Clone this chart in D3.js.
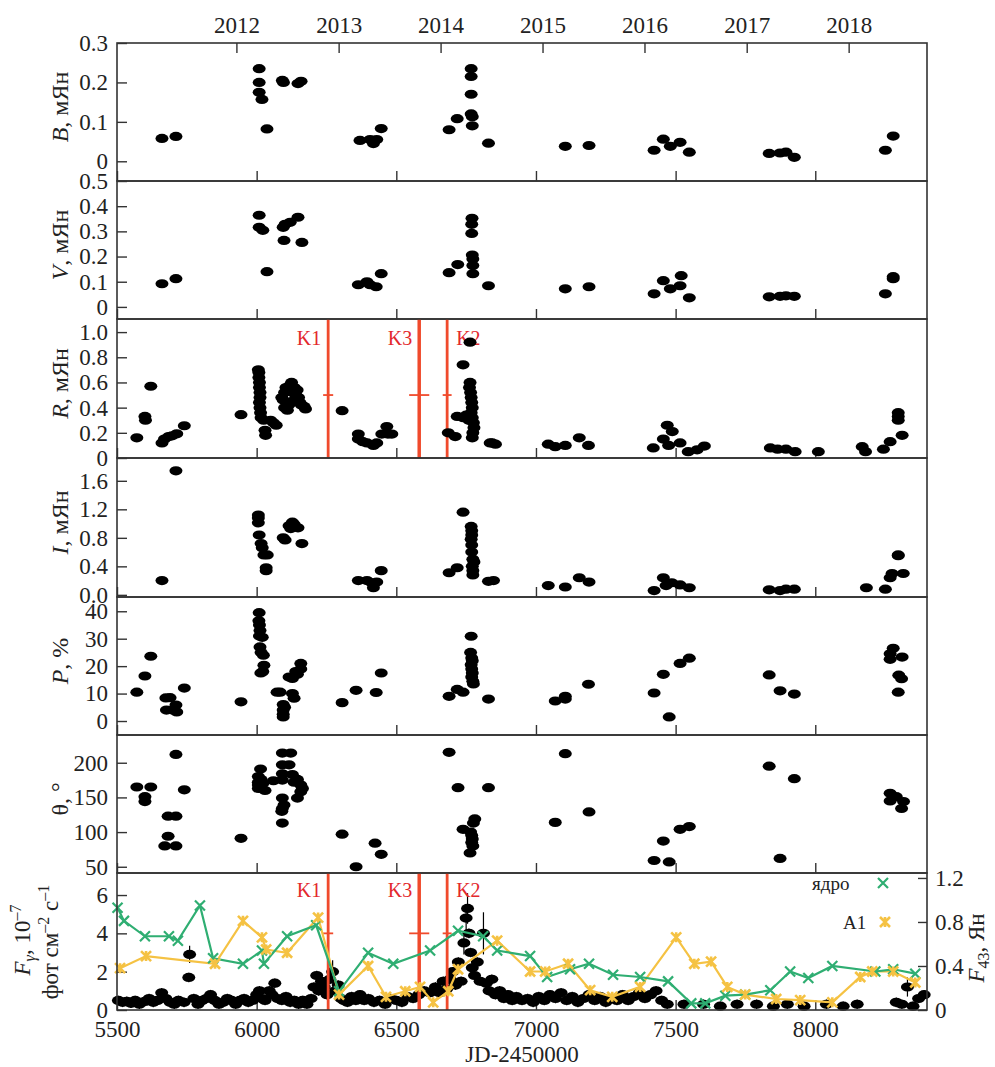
<!DOCTYPE html>
<html>
<head>
<meta charset="utf-8">
<script src="https://cdn.jsdelivr.net/npm/d3@7"></script>
<style>
  body { margin: 0; background: #fff; }
  text { font-family: "Liberation Serif", "DejaVu Serif", serif; fill: #222; }
</style>
</head>
<body>
<div id="chart"></div>
<script>
var width = 995;
var height = 1067;
var left = 117, right = 927;

// year ticks on top (JD-2450000 of 1 January)
var yearJD = [5927.5, 6293.5, 6658.5, 7023.5, 7388.5, 7754.5, 8119.5];
var yearLabels = ["2012", "2013", "2014", "2015", "2016", "2017", "2018"];
var jdTicks = [5500, 6000, 6500, 7000, 7500, 8000];

// flux B, mJy
var bJD = [5661,5711,6009,6009,6009,6019,6037,6092,6096,6148,6159,6370,6406,6418,6430,6446,6689,6718,6768,6768,6768,6768,6772,6772,6830,7105,7190,7423,7456,7481,7516,7549,7835,7874,7895,7925,8251,8279];
var bVal = [0.058,0.063,0.235,0.20,0.175,0.157,0.082,0.205,0.200,0.197,0.203,0.053,0.055,0.045,0.055,0.083,0.080,0.108,0.235,0.215,0.170,0.120,0.113,0.090,0.046,0.038,0.040,0.028,0.056,0.038,0.048,0.023,0.020,0.021,0.023,0.010,0.028,0.064];

// flux V, mJy
var vJD = [5661,5711,6009,6009,6022,6037,6095,6098,6102,6120,6148,6162,6364,6395,6406,6428,6446,6689,6720,6771,6770,6770,6772,6774,6774,6774,6830,7105,7190,7423,7456,7481,7516,7520,7549,7835,7874,7895,7925,8251,8279,8279];
var vVal = [0.092,0.112,0.364,0.316,0.304,0.14,0.316,0.264,0.328,0.336,0.356,0.256,0.088,0.1,0.088,0.08,0.132,0.136,0.168,0.352,0.328,0.292,0.206,0.19,0.164,0.132,0.084,0.072,0.08,0.052,0.104,0.072,0.084,0.124,0.036,0.04,0.042,0.044,0.042,0.052,0.12,0.112];

// flux R, mJy
var rJD = [5571,5600,5602,5621,5661,5670,5685,5697,5714,5741,5944,
  6006,6008,6008,6010,6010,6012,6012,6010,6012,6014,6016,6025,6030,6032,6050,6070,6060,
  6090,6095,6100,6105,6110,6115,6120,6125,6130,6135,6140,6145,6150,6155,6160,6135,6100,6110,6170,6175,
  6306,6364,6364,6380,6395,6418,6430,6448,6466,6470,6484,
  6686,6711,6718,6739,6764,6764,6762,6766,6768,6770,6772,6768,6772,6776,6778,6774,6772,6750,6740,6760,
  6836,6843,6855,7044,7069,7105,7155,7188,7420,7456,7470,7488,7475,7516,7545,7577,7603,
  7839,7865,7895,7928,8011,8168,8180,8244,8268,8311,8297,8297,8297];
var rVal = [0.16,0.33,0.30,0.57,0.12,0.15,0.17,0.176,0.192,0.256,0.344,
  0.70,0.68,0.64,0.60,0.56,0.52,0.48,0.44,0.40,0.36,0.32,0.30,0.22,0.18,0.30,0.26,0.28,
  0.48,0.46,0.52,0.56,0.44,0.42,0.58,0.60,0.52,0.56,0.50,0.54,0.48,0.44,0.42,0.46,0.40,0.38,0.41,0.39,
  0.376,0.19,0.15,0.13,0.12,0.10,0.12,0.19,0.25,0.19,0.19,
  0.20,0.17,0.33,0.74,0.92,0.60,0.56,0.52,0.48,0.44,0.40,0.36,0.32,0.28,0.24,0.20,0.16,0.34,0.32,0.30,
  0.12,0.12,0.11,0.11,0.09,0.10,0.16,0.10,0.08,0.15,0.26,0.21,0.10,0.12,0.05,0.065,0.095,
  0.08,0.07,0.07,0.05,0.05,0.09,0.05,0.07,0.13,0.18,0.36,0.33,0.30];

// flux I, mJy
var iJD = [5661,5711,6006,6006,6006,6009,6016,6020,6026,6038,6034,6034,6095,6102,6128,6116,6134,6148,6122,6162,
  6364,6395,6412,6418,6430,6446,6689,6718,6739,6768,6770,6770,6768,6770,6770,6774,6778,6772,6774,6774,6830,6848,
  7044,7105,7155,7190,7423,7456,7466,7486,7516,7549,7835,7874,7895,7925,8183,8251,8268,8275,8315,8297,8297];
var iVal = [0.2,1.74,1.12,1.08,1.01,0.84,0.72,0.66,0.56,0.56,0.38,0.34,0.80,0.77,1.02,0.97,0.99,0.94,0.93,0.72,
  0.2,0.2,0.17,0.1,0.18,0.34,0.31,0.38,1.16,0.96,0.90,0.84,0.78,0.70,0.60,0.50,0.46,0.40,0.34,0.28,0.19,0.20,
  0.13,0.11,0.24,0.18,0.06,0.24,0.13,0.17,0.14,0.10,0.07,0.06,0.08,0.08,0.10,0.08,0.24,0.30,0.30,0.56,0.55];

// polarization degree P, %
var pJD = [5571,5600,5621,5675,5690,5677,5711,5714,5700,5741,5944,
  6009,6008,6010,6012,6010,6020,6012,6016,6024,6026,6022,6015,
  6073,6084,6095,6095,6095,6095,6100,6128,6134,6116,6128,6140,6158,6158,6146,
  6306,6356,6428,6446,
  6689,6718,6739,6768,6766,6770,6772,6768,6770,6772,6770,6774,6776,6830,
  7069,7105,7105,7188,7423,7456,7477,7516,7549,7835,7874,7925,8279,8268,8268,8311,8299,8309,8297];
var pVal = [10.5,16.4,23.6,8.4,8.5,4,5.8,3.3,4,12,7,
  39.5,36.5,35,33,31,30.5,27,25,24,20.3,18,17.5,
  10.5,10.5,6,4,2.5,1.5,5,10,8.3,16,15.5,18,21,19,17,
  6.7,11.2,10.4,17.5,
  9,11.5,10.5,30.9,25,23,22,20.5,19,17.5,16,14.5,13.5,8,
  7.3,9,8,13.4,10.2,17,1.5,21,22.9,16.8,11,9.8,26.5,24.5,22.5,23.3,16.7,15.4,10.5];

// polarization angle, deg
var thJD = [5571,5621,5600,5600,5711,5683,5711,5683,5671,5711,5741,5944,
  6014,6006,6006,6006,6006,6022,6030,6016,
  6092,6122,6092,6116,6060,6092,6092,6128,6146,6158,6164,6146,6092,6098,6092,6090,6092,6158,6134,
  6306,6356,6424,6446,
  6689,6721,6830,6739,6781,6776,6766,6770,6772,6770,6774,6764,
  7069,7105,7190,7423,7456,7477,7516,7549,7835,7874,7925,8268,8268,8290,8316,8309];
var thVal = [165,165,151,144,212,123,123,94,80,80,161,91,
  191,180,172,168,163,170,160,176,
  214,214,197,197,174,184,175,183,176,168,163,149,149,139,134,130,113,158,172,
  97,50,84,68,
  215,164,164,104,119,113,100,95,90,85,80,70,
  114,213,129,59,87,57,104,108,195,62,177,156,145,151,144,134];

// gamma-ray flux, 10^-7 ph cm^-2 s^-1
var fgJD = [5505,5520,5535,5550,5565,5580,5600,5615,5630,5645,5660,5675,5690,5705,5720,5740,5757,5760,5775,5790,
  5805,5820,5835,5850,5865,5880,5895,5910,5925,5940,5955,5970,5985,6000,6010,6020,6030,6045,6055,6065,
  6075,6090,6105,6120,6135,6150,6165,6180,6195,6205,6215,6222,6232,6242,6252,6262,6272,6282,6292,6302,
  6312,6325,6340,6355,6370,6385,6400,6420,6440,6460,6480,6500,6520,6540,6560,6580,6600,6620,6640,6655,
  6668,6680,6692,6702,6712,6722,6732,6742,6750,6755,6760,6766,6772,6780,6790,6800,6812,6822,6832,6842,
  6855,6870,6885,6900,6915,6930,6950,6970,6990,7010,7030,7050,7070,7090,7110,7130,7150,7170,7190,7210,
  7230,7250,7270,7290,7310,7330,7350,7370,7390,7410,7430,7450,7470,7530,7600,7660,7720,7790,7850,7900,
  7960,8040,8100,8150,8290,8310,8330,8350,8370,8390];
var fgVal = [0.5,0.4,0.45,0.35,0.5,0.3,0.45,0.6,0.4,0.5,0.9,0.6,0.4,0.3,0.5,0.4,1.7,2.9,0.6,0.3,
  0.5,0.6,0.8,0.5,0.3,0.4,0.6,0.5,0.3,0.5,0.6,0.4,0.5,0.8,1.0,0.6,0.5,1.0,0.8,1.4,
  0.6,0.5,0.7,0.4,0.5,0.3,0.5,0.3,0.6,1.2,1.8,1.0,1.5,1.2,0.8,1.6,2.0,1.0,1.3,0.6,
  0.5,0.4,0.7,0.5,0.8,0.5,0.6,0.4,0.5,0.3,0.6,0.5,0.4,0.7,0.6,0.8,1.0,0.9,1.2,0.9,
  1.5,1.1,1.6,2.0,1.3,2.5,1.5,3.5,4.8,5.3,4.0,3.0,2.2,1.8,2.5,1.5,4.0,1.4,1.0,1.6,
  0.8,1.0,0.6,0.8,0.5,0.7,0.5,0.6,0.4,0.7,0.5,0.8,0.6,0.9,0.5,0.7,0.4,0.6,0.8,0.5,
  0.7,0.4,0.6,0.5,0.8,0.5,0.7,0.9,0.6,0.8,1.0,0.5,0.3,0.3,0.3,0.2,0.3,0.3,0.2,0.3,
  0.2,0.3,0.2,0.3,0.4,0.3,1.2,0.2,0.6,0.8];
var fgErrDefault = 0.25;
var fgBigErrJD = [5760, 6272, 6742, 6750, 6755, 6812, 8330];
var fgBigErr = [0.45, 0.6, 0.6, 0.7, 0.8, 1.1, 0.5];

// radio flux density at 43 GHz, Jy
var coreJD = [5502,5525,5600,5686,5718,5797,5844,5951,6019,6026,6109,6213,6295,6399,6489,6621,6721,6811,6861,6979,
  7040,7122,7190,7276,7373,7473,7556,7606,7678,7749,7839,7910,7975,8061,8215,8279,8358];
var coreVal = [0.93,0.81,0.67,0.67,0.63,0.95,0.47,0.42,0.54,0.42,0.67,0.77,0.17,0.52,0.42,0.54,0.72,0.67,0.54,0.49,
  0.30,0.37,0.42,0.32,0.30,0.26,0.06,0.06,0.13,0.14,0.18,0.35,0.29,0.40,0.35,0.37,0.33];
var a1JD = [5511,5604,5851,5951,6019,6034,6109,6220,6295,6399,6463,6532,6585,6632,6686,6721,6861,6979,7033,7115,
  7194,7273,7373,7502,7567,7627,7685,7749,7860,7946,8061,8161,8204,8279,8358];
var a1Val = [0.38,0.49,0.42,0.81,0.66,0.55,0.52,0.84,0.14,0.40,0.12,0.17,0.21,0.07,0.17,0.37,0.63,0.35,0.35,0.42,
  0.18,0.12,0.21,0.66,0.42,0.44,0.21,0.14,0.10,0.09,0.07,0.30,0.35,0.35,0.25];

// component ejection epochs
var kNames = ["K1", "K3", "K2"];
var kJD = [6256, 6582, 6682];
var kErr = [18, 36, 16];

var greenColor = "#2fae72";
var yellowColor = "#f5c243";
var redLine = "#f04a2c";
var redText = "#e3282c";

var x = d3.scaleLinear().domain([5500, 8400]).range([left, right]);

var svg = d3.select("#chart").append("svg")
    .attr("width", width)
    .attr("height", height);

var panels = [
  { top: 43, bot: 181, dom: [-0.05, 0.3], ticks: [0, 0.1, 0.2, 0.3], fmt: ["0", "0.1", "0.2", "0.3"], xs: bJD, ys: bVal, letter: "B", unit: ", мЯн" },
  { top: 181, bot: 319, dom: [-0.048, 0.5], ticks: [0, 0.1, 0.2, 0.3, 0.4, 0.5], fmt: ["0", "0.1", "0.2", "0.3", "0.4", "0.5"], xs: vJD, ys: vVal, letter: "V", unit: ", мЯн" },
  { top: 319, bot: 458, dom: [0, 1.104], ticks: [0, 0.2, 0.4, 0.6, 0.8, 1.0], fmt: ["0", "0.2", "0.4", "0.6", "0.8", "1.0"], xs: rJD, ys: rVal, letter: "R", unit: ", мЯн" },
  { top: 458, bot: 597, dom: [-0.03, 1.92], ticks: [0, 0.4, 0.8, 1.2, 1.6], fmt: ["0.0", "0.4", "0.8", "1.2", "1.6"], xs: iJD, ys: iVal, letter: "I", unit: ", мЯн" },
  { top: 597, bot: 735, dom: [-5.1, 45.2], ticks: [0, 10, 20, 30, 40], fmt: ["0", "10", "20", "30", "40"], xs: pJD, ys: pVal, letter: "P", unit: ", %" },
  { top: 735, bot: 873, dom: [41, 240], ticks: [50, 100, 150, 200], fmt: ["50", "100", "150", "200"], xs: thJD, ys: thVal, letter: "θ", unit: ", °", upright: true },
  { top: 873, bot: 1010, dom: [0, 7.15], ticks: [0, 2, 4, 6], fmt: ["0", "2", "4", "6"], xs: fgJD, ys: fgVal, gamma: true }
];

function leftAxis(g, p, y) {
  g.call(d3.axisLeft(y).tickValues(p.ticks)
      .tickFormat(function (d, i) { return p.fmt[i]; })
      .tickSize(-10).tickPadding(9))
    .call(function (a) { a.select(".domain").remove(); })
    .call(function (a) {
      a.selectAll("line").attr("stroke", "#333").attr("stroke-width", 1.4);
      a.selectAll("text").attr("font-size", 23).attr("font-family", "Liberation Serif").attr("fill", "#222");
    });
}

function marks(g, xs, ys, y) {
  g.selectAll("ellipse.pt")
    .data(xs.map(function (d, i) { return [d, ys[i]]; }))
    .enter().append("ellipse")
    .attr("class", "pt")
    .attr("cx", function (d) { return x(d[0]); })
    .attr("cy", function (d) { return y(d[1]); })
    .attr("rx", 6.5)
    .attr("ry", 4.6)
    .attr("fill", "#000");
}

function flareLines(g, p, y, yBar, labelY) {
  kJD.forEach(function (jd, i) {
    g.append("line")
      .attr("x1", x(jd)).attr("x2", x(jd))
      .attr("y1", p.top).attr("y2", p.bot)
      .attr("stroke", redLine).attr("stroke-width", i == 1 ? 3.5 : 2.8);
    g.append("line")
      .attr("x1", x(jd - kErr[i])).attr("x2", x(jd + kErr[i]))
      .attr("y1", y(yBar)).attr("y2", y(yBar))
      .attr("stroke", redLine).attr("stroke-width", 1.8);
    var isRight = kNames[i] == "K2";
    g.append("text")
      .attr("x", isRight ? x(jd) + 9 : x(jd) - 7)
      .attr("y", labelY)
      .attr("text-anchor", isRight ? "start" : "end")
      .attr("font-size", 20)
      .style("fill", redText)
      .text(kNames[i]);
  });
}

panels.forEach(function (p, idx) {
  var y = d3.scaleLinear().domain(p.dom).range([p.bot, p.top]);
  var g = svg.append("g");

  // inward x ticks on the bottom of each panel
  var xb = g.append("g").attr("transform", "translate(0," + p.bot + ")")
    .call(d3.axisBottom(x).tickValues(jdTicks).tickSize(-10).tickPadding(11)
      .tickFormat(idx == panels.length - 1 ? d3.format("d") : function () { return ""; }));
  xb.select(".domain").remove();
  xb.selectAll("line").attr("stroke", "#333").attr("stroke-width", 1.4);
  xb.selectAll("text").attr("font-size", 23).attr("font-family", "Liberation Serif").attr("fill", "#222");

  if (idx == 0) {
    var xt = g.append("g").attr("transform", "translate(0," + p.top + ")")
      .call(d3.axisTop(x).tickValues(yearJD).tickSize(-10).tickPadding(10)
        .tickFormat(function (d, i) { return yearLabels[i]; }));
    xt.select(".domain").remove();
    xt.selectAll("line").attr("stroke", "#333").attr("stroke-width", 1.4);
    xt.selectAll("text").attr("font-size", 23).attr("font-family", "Liberation Serif").attr("fill", "#222");
  }

  leftAxis(g.append("g").attr("transform", "translate(" + left + ",0)"), p, y);

  if (p.letter == "R") flareLines(g, p, y, 0.5, 345);

  if (p.gamma) {
    var yr = d3.scaleLinear().domain([0, 1.245]).range([p.bot, p.top]);
    var ra = g.append("g").attr("transform", "translate(" + right + ",0)")
      .call(d3.axisRight(yr).tickValues([0, 0.4, 0.8, 1.2])
        .tickFormat(function (d) { return d == 0 ? "0" : d3.format(".1f")(d); })
        .tickSize(-9).tickPadding(8));
    ra.select(".domain").remove();
    ra.selectAll("line").attr("stroke", "#333").attr("stroke-width", 1.4);
    ra.selectAll("text").attr("font-size", 23).attr("font-family", "Liberation Serif").attr("fill", "#222");

    // error bars
    g.selectAll("line.err")
      .data(fgJD.map(function (d, i) {
        var k = fgBigErrJD.indexOf(d);
        return [d, fgVal[i], k >= 0 ? fgBigErr[k] : fgErrDefault];
      }))
      .enter().append("line")
      .attr("class", "err")
      .attr("x1", function (d) { return x(d[0]); })
      .attr("x2", function (d) { return x(d[0]); })
      .attr("y1", function (d) { return y(Math.max(0, d[1] - d[2])); })
      .attr("y2", function (d) { return y(d[1] + d[2]); })
      .attr("stroke", "#000").attr("stroke-width", 1.2);
    marks(g, p.xs, p.ys, y);

    flareLines(g, p, y, 4, 897);

    var line = d3.line()
      .x(function (d) { return x(d[0]); })
      .y(function (d) { return yr(d[1]); });

    var core = coreJD.map(function (d, i) { return [d, coreVal[i]]; });
    var a1 = a1JD.map(function (d, i) { return [d, a1Val[i]]; });

    g.append("path").datum(a1).attr("d", line)
      .attr("fill", "none").attr("stroke", yellowColor).attr("stroke-width", 2.2);
    g.append("path").datum(core).attr("d", line)
      .attr("fill", "none").attr("stroke", greenColor).attr("stroke-width", 2.2);

    var s = 5;
    core.forEach(function (d) {
      var cx = x(d[0]), cy = yr(d[1]);
      g.append("path")
        .attr("d", "M" + (cx - s) + "," + (cy - s) + "L" + (cx + s) + "," + (cy + s) +
          "M" + (cx - s) + "," + (cy + s) + "L" + (cx + s) + "," + (cy - s))
        .attr("stroke", greenColor).attr("stroke-width", 2.2);
    });
    a1.forEach(function (d) {
      var cx = x(d[0]), cy = yr(d[1]);
      g.append("path")
        .attr("d", "M" + (cx - s) + "," + (cy - s) + "L" + (cx + s) + "," + (cy + s) +
          "M" + (cx - s) + "," + (cy + s) + "L" + (cx + s) + "," + (cy - s) +
          "M" + cx + "," + (cy - s) + "L" + cx + "," + (cy + s))
        .attr("stroke", yellowColor).attr("stroke-width", 2.6);
    });

    // legend
    var lg = g.append("g");
    lg.append("text").attr("x", 812).attr("y", 890).attr("font-size", 19).text("ядро");
    lg.append("path")
      .attr("d", "M878,878L888,888M878,888L888,878")
      .attr("stroke", greenColor).attr("stroke-width", 2.2);
    lg.append("text").attr("x", 843).attr("y", 929).attr("font-size", 19).text("A1");
    lg.append("path")
      .attr("d", "M880,917L890,927M880,927L890,917M885,917L885,927")
      .attr("stroke", yellowColor).attr("stroke-width", 2.6);

    // axis titles
    var t1 = svg.append("text")
      .attr("transform", "translate(30," + 940 + ") rotate(-90)")
      .attr("text-anchor", "middle").attr("font-size", 23);
    t1.append("tspan").style("font-style", "italic").text("F");
    t1.append("tspan").attr("font-size", 16).attr("dy", 5).style("font-style", "italic").text("γ");
    t1.append("tspan").attr("dy", -5).text(", 10");
    t1.append("tspan").attr("font-size", 16).attr("dy", -9).text("–7");

    var t2 = svg.append("text")
      .attr("transform", "translate(58," + 942 + ") rotate(-90)")
      .attr("text-anchor", "middle").attr("font-size", 23);
    t2.append("tspan").text("фот см");
    t2.append("tspan").attr("font-size", 16).attr("dy", -9).text("–2");
    t2.append("tspan").attr("dy", 9).text(" с");
    t2.append("tspan").attr("font-size", 16).attr("dy", -9).text("–1");

    var t3 = svg.append("text")
      .attr("transform", "translate(984," + 948 + ") rotate(-90)")
      .attr("text-anchor", "middle").attr("font-size", 23);
    t3.append("tspan").style("font-style", "italic").text("F");
    t3.append("tspan").attr("font-size", 16).attr("dy", 5).text("43");
    t3.append("tspan").attr("dy", -5).text(", Ян");
  } else {
    marks(g, p.xs, p.ys, y);
    var cy = (p.top + p.bot) / 2 - 5;
    var t = svg.append("text")
      .attr("transform", "translate(68," + cy + ") rotate(-90)")
      .attr("text-anchor", "middle").attr("font-size", 24);
    t.append("tspan").style("font-style", p.upright ? "normal" : "italic").text(p.letter);
    t.append("tspan").text(p.unit);
  }

  // frame
  g.append("rect")
    .attr("x", left).attr("y", p.top)
    .attr("width", right - left).attr("height", p.bot - p.top)
    .attr("fill", "none").attr("stroke", "#333").attr("stroke-width", 1.6);
});

svg.append("text")
  .attr("x", (left + right) / 2)
  .attr("y", 1062)
  .attr("text-anchor", "middle")
  .attr("font-size", 23)
  .text("JD-2450000");
</script>
</body>
</html>
